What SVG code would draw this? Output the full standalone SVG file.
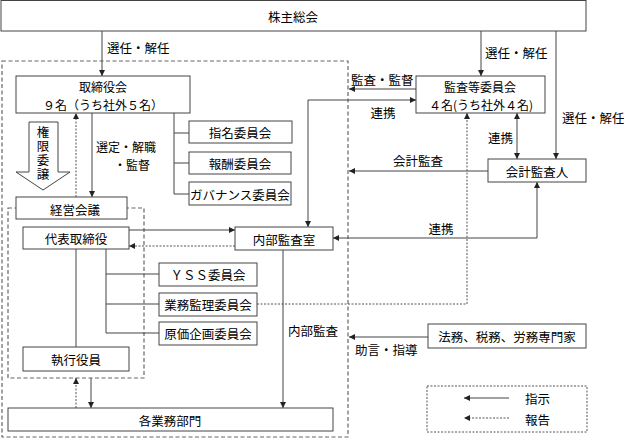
<svg xmlns="http://www.w3.org/2000/svg" width="624" height="439" viewBox="0 0 624 439">
<style>
  .box { fill: #fff; stroke: #444; stroke-width: 1; }
  .t { font-family: "Noto Sans CJK JP", "Liberation Sans", sans-serif; font-size: 12.5px; fill: #000; dominant-baseline: central; }
  .s { font-size: 12px; }
  .c { text-anchor: middle; }
  .v { font-family: "Noto Sans CJK JP", "Liberation Sans", sans-serif; font-size: 12.5px; fill: #000; writing-mode: vertical-rl; letter-spacing: 1.5px; }
  .ln { fill: none; stroke: #444; stroke-width: 1; }
  .dot { fill: none; stroke: #555; stroke-width: 1; stroke-dasharray: 2 1.5; }
  .dash { fill: none; stroke: #666; stroke-width: 1.2; stroke-dasharray: 4 2.5; }
  .arr { marker-end: url(#ah); }
  .arr2 { marker-start: url(#ah); marker-end: url(#ah); }
</style>
<defs>
  <marker id="ah" markerUnits="userSpaceOnUse" markerWidth="7" markerHeight="7" refX="6" refY="3" orient="auto-start-reverse">
    <path d="M0,0 L6,3 L0,6 z" fill="#222"/>
  </marker>
</defs>
<rect width="624" height="439" fill="#fff"/>

<!-- regions -->
<g id="regions">
  <rect class="dash" x="2" y="61" width="346" height="376"/>
  <rect class="dash" x="8" y="208" width="136" height="170"/>
</g>

<!-- connectors -->
<g id="connectors">
  <path class="ln arr" d="M102,31 V76"/>
  <path class="ln arr" d="M481,31 V76"/>
  <path class="ln arr" d="M556,31 V159"/>
  <path class="ln arr" d="M416,89 H349"/>
  <path class="ln arr2" d="M308,227 V100 H416"/>
  <path class="ln arr2" d="M517,113 V159"/>
  <path class="ln arr" d="M488,171 H349"/>
  <path class="ln arr2" d="M537,182 V238 H333"/>
  <path class="dot arr" d="M257,304 H467 V113"/>
  <path class="ln arr" d="M92,113 V197"/>
  <path class="dot arr" d="M76,197 V113"/>
  <path class="ln" d="M174,113 V194 H189 M174,133 H189 M174,163 H189"/>
  <path class="ln arr" d="M129,230 H235"/>
  <path class="dot arr" d="M235,246 H129"/>
  <path class="ln" d="M76,249 V347"/>
  <path class="ln" d="M106,249 V333 H159 M106,274 H159 M106,304 H159"/>
  <path class="ln arr" d="M283,250 V408"/>
  <path class="ln arr" d="M91,378 V408"/>
  <path class="dot arr" d="M76,408 V378"/>
  <path class="ln arr" d="M428,337 H349"/>
</g>

<!-- connector labels -->
<g id="labels">
  <text class="t" x="107" y="47">選任・解任</text>
  <text class="t" x="485" y="52">選任・解任</text>
  <text class="t" x="562" y="117">選任・解任</text>
  <text class="t" x="351" y="79">監査・監督</text>
  <text class="t c" x="383" y="112">連携</text>
  <text class="t" x="488" y="137">連携</text>
  <text class="t c" x="418" y="160">会計監査</text>
  <text class="t c" x="441" y="228">連携</text>
  <text class="t s" x="96" y="146">選定・解職<tspan x="114" dy="18">・監督</tspan></text>
  <text class="t" x="288" y="330">内部監査</text>
  <text class="t" x="355" y="349">助言・指導</text>
</g>

<g id="shareholders">
  <rect class="box" x="1" y="0.5" width="585" height="30.5"/>
  <text class="t c" x="293" y="16">株主総会</text>
</g>
<g id="board">
  <rect class="box" x="16" y="76" width="174" height="37"/>
  <text class="t s c" x="103" y="86">取締役会<tspan x="103" dy="18">９名（うち社外５名）</tspan></text>
</g>
<g id="nomination">
  <rect class="box" x="189" y="121" width="103" height="22"/>
  <text class="t c" x="240" y="132">指名委員会</text>
</g>
<g id="compensation">
  <rect class="box" x="189" y="152" width="102" height="22"/>
  <text class="t c" x="240" y="163">報酬委員会</text>
</g>
<g id="governance">
  <rect class="box" x="189" y="182" width="102" height="23"/>
  <text class="t c" x="240" y="194">ガバナンス委員会</text>
</g>
<g id="delegation">
  <polygon class="box" points="29,122 58,122 58,172 70,172 43,190 16,172 29,172"/>
  <text class="v" x="43" y="126">権限委譲</text>
</g>
<g id="mgmt-meeting">
  <rect class="box" x="16" y="197" width="111" height="22"/>
  <text class="t c" x="75" y="209">経営会議</text>
</g>
<g id="ceo">
  <rect class="box" x="23" y="227" width="106" height="22"/>
  <text class="t c" x="76" y="238">代表取締役</text>
</g>
<g id="internal-audit">
  <rect class="box" x="235" y="227" width="98" height="23"/>
  <text class="t c" x="284" y="239">内部監査室</text>
</g>
<g id="audit-committee">
  <rect class="box" x="416" y="76" width="129" height="37"/>
  <text class="t s c" x="480" y="86">監査等委員会<tspan x="481" dy="18">４名(うち社外４名)</tspan></text>
</g>
<g id="auditor">
  <rect class="box" x="488" y="159" width="98" height="23"/>
  <text class="t c" x="537" y="171">会計監査人</text>
</g>
<g id="yss">
  <rect class="box" x="159" y="263" width="98" height="23"/>
  <text class="t c" x="208" y="274">ＹＳＳ委員会</text>
</g>
<g id="business-supervision">
  <rect class="box" x="159" y="293" width="98" height="23"/>
  <text class="t c" x="208" y="304">業務監理委員会</text>
</g>
<g id="cost-planning">
  <rect class="box" x="159" y="322" width="98" height="23"/>
  <text class="t c" x="208" y="333">原価企画委員会</text>
</g>
<g id="officers">
  <rect class="box" x="23" y="347" width="106" height="24"/>
  <text class="t c" x="76" y="359">執行役員</text>
</g>
<g id="departments">
  <rect class="box" x="8" y="408" width="325" height="23"/>
  <text class="t c" x="170" y="420">各業務部門</text>
</g>
<g id="experts">
  <rect class="box" x="428" y="324" width="158" height="24"/>
  <text class="t c" x="507" y="336">法務、税務、労務専門家</text>
</g>
<g id="legend">
  <rect x="427" y="386" width="160" height="46" fill="none" stroke="#555" stroke-dasharray="2 1.5"/>
  <path class="ln arr" d="M509,398 H464"/>
  <path class="dot arr" d="M509,418 H464"/>
  <text class="t" x="525" y="398">指示</text>
  <text class="t" x="525" y="419">報告</text>
</g>
</svg>
